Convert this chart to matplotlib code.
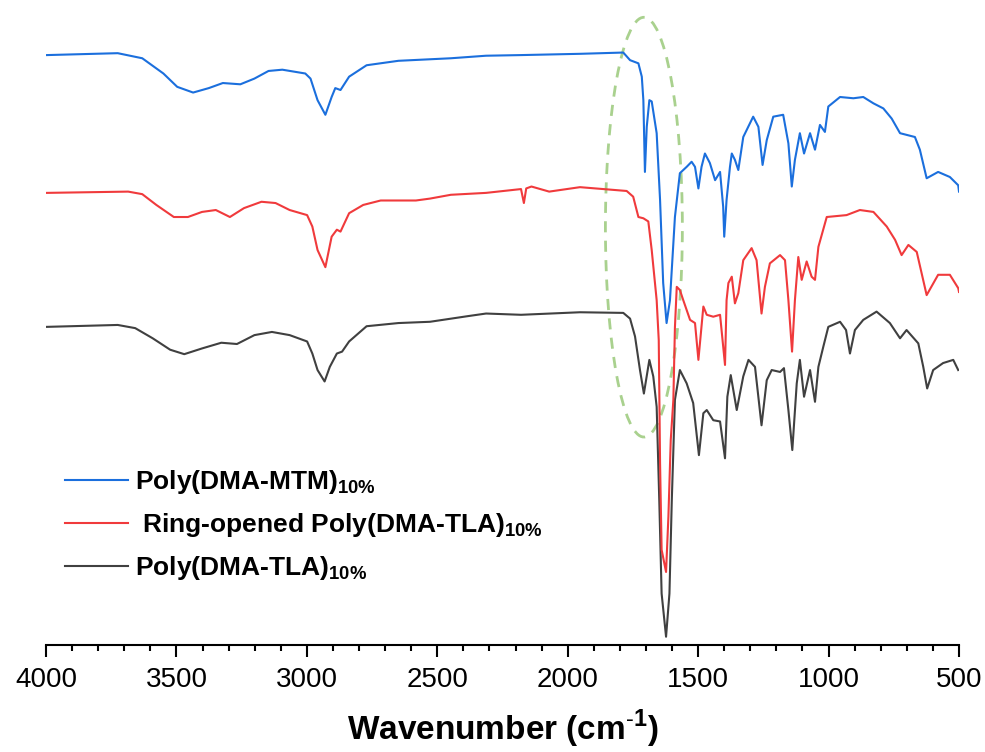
import matplotlib

matplotlib.use("Agg")
import matplotlib.pyplot as plt
from matplotlib.patches import Ellipse
from matplotlib.ticker import MultipleLocator

plt.rcParams["font.family"] = ["Liberation Sans", "DejaVu Sans"]
plt.rcParams["mathtext.fontset"] = "custom"
plt.rcParams["mathtext.rm"] = "Liberation Sans"
plt.rcParams["mathtext.bf"] = "Liberation Sans:bold"

# Transmittance (a.u., already stacked)
mtm_wn = [3997, 3725, 3631, 3550, 3497, 3436, 3376, 3322, 3255, 3201, 3147, 3094,
          3006, 2986, 2959, 2929, 2905, 2891, 2871, 2838, 2771, 2649, 2448, 2313,
          2179, 1953, 1787, 1761, 1729, 1716, 1710, 1704, 1697, 1687, 1678, 1659,
          1646, 1634, 1621, 1608, 1589, 1570, 1544, 1525, 1512, 1499, 1487, 1474,
          1455, 1435, 1416, 1404, 1400, 1391, 1378, 1371, 1359, 1346, 1327, 1289,
          1269, 1253, 1237, 1212, 1174, 1154, 1141, 1129, 1110, 1094, 1071, 1052,
          1033, 1014, 1001, 956, 905, 867, 828, 790, 758, 726, 669, 650, 624, 580,
          535, 503, 500]
mtm_t = [92.9, 93.2, 92.4, 90.0, 87.9, 87.0, 87.7, 88.5, 88.3, 89.2, 90.4, 90.6,
         90.0, 89.2, 85.8, 83.5, 86.3, 87.7, 87.4, 89.5, 91.3, 92.0, 92.4, 92.8,
         92.9, 93.1, 93.3, 92.1, 91.6, 89.5, 85.8, 74.5, 81.6, 85.8, 85.6, 80.6,
         70.1, 57.0, 50.7, 54.3, 67.4, 74.3, 75.3, 76.1, 75.3, 71.9, 75.3, 77.4,
         75.9, 73.2, 74.5, 69.0, 64.3, 70.1, 75.3, 77.4, 76.4, 74.8, 80.0, 83.2,
         81.6, 75.6, 79.5, 83.2, 83.5, 79.0, 72.2, 76.4, 80.6, 77.4, 80.6, 78.0,
         81.9, 80.8, 84.8, 86.3, 86.1, 86.3, 85.3, 84.5, 82.9, 80.6, 80.0, 78.0,
         73.5, 74.5, 73.7, 72.4, 71.4]

ro_wn = [3997, 3685, 3631, 3577, 3510, 3456, 3402, 3349, 3295, 3241, 3174, 3120,
         3066, 2999, 2979, 2959, 2929, 2905, 2885, 2871, 2838, 2784, 2717, 2582,
         2528, 2448, 2313, 2179, 2168, 2159, 2139, 2071, 1953, 1774, 1749, 1729,
         1710, 1691, 1678, 1659, 1651, 1646, 1640, 1623, 1614, 1605, 1595, 1589,
         1582, 1570, 1557, 1531, 1512, 1499, 1480, 1467, 1442, 1416, 1397, 1391,
         1384, 1371, 1359, 1346, 1327, 1295, 1276, 1257, 1244, 1225, 1186, 1167,
         1154, 1140, 1129, 1116, 1103, 1084, 1065, 1052, 1039, 1007, 931, 880,
         828, 777, 745, 720, 694, 662, 643, 624, 580, 535, 503, 500]
ro_t = [71.2, 71.4, 71.0, 69.3, 67.4, 67.4, 68.2, 68.5, 67.4, 68.8, 69.8, 69.6,
        68.5, 67.7, 65.9, 62.2, 59.5, 64.3, 65.4, 65.1, 68.0, 69.3, 70.0, 70.0,
        70.3, 70.9, 71.2, 71.8, 69.6, 71.9, 72.2, 71.4, 72.1, 71.5, 70.6, 67.4,
        67.2, 66.7, 62.2, 54.3, 48.0, 28.7, 15.0, 11.5, 20.2, 32.3, 38.6, 50.0,
        56.4, 55.9, 54.3, 51.2, 50.7, 44.9, 53.3, 52.0, 51.7, 52.0, 44.1, 54.3,
        57.0, 58.0, 53.8, 55.4, 60.6, 62.5, 60.6, 52.2, 56.4, 60.1, 61.4, 60.6,
        54.3, 46.2, 54.3, 61.1, 57.5, 60.4, 58.0, 57.5, 62.7, 67.4, 67.7, 68.5,
        68.2, 65.9, 63.8, 61.4, 63.0, 61.9, 58.5, 55.1, 58.3, 58.3, 56.2, 55.6]

tla_wn = [3997, 3725, 3658, 3591, 3524, 3470, 3402, 3328, 3268, 3201, 3134, 3066,
          2999, 2979, 2959, 2932, 2912, 2885, 2865, 2838, 2771, 2649, 2528, 2381,
          2313, 2179, 1953, 1787, 1761, 1742, 1723, 1708, 1687, 1672, 1659, 1649,
          1640, 1623, 1610, 1601, 1589, 1570, 1544, 1519, 1497, 1480, 1467, 1442,
          1416, 1397, 1388, 1375, 1352, 1327, 1307, 1282, 1257, 1237, 1218, 1186,
          1171, 1154, 1139, 1122, 1110, 1094, 1071, 1052, 1039, 1020, 1001, 956,
          933, 918, 899, 867, 816, 765, 726, 701, 656, 637, 622, 599, 561, 522, 503]
tla_t = [50.1, 50.4, 49.9, 48.3, 46.5, 45.8, 46.7, 47.6, 47.4, 48.8, 49.3, 48.8,
         47.8, 45.9, 43.3, 41.5, 43.8, 45.9, 46.2, 47.8, 50.2, 50.7, 50.9, 51.8,
         52.2, 52.0, 52.4, 52.3, 51.4, 48.6, 43.3, 39.6, 44.9, 42.3, 37.5, 22.8,
         8.1, 1.3, 8.1, 22.8, 38.6, 43.3, 41.2, 38.1, 29.9, 36.5, 37.0, 35.4,
         35.2, 29.4, 39.1, 42.5, 37.0, 42.3, 44.9, 43.8, 34.6, 41.7, 43.3, 43.0,
         43.6, 37.0, 30.7, 41.2, 44.9, 39.1, 43.3, 38.3, 43.8, 47.0, 50.1, 50.9,
         49.6, 45.9, 49.6, 51.2, 52.5, 50.7, 48.3, 49.6, 47.5, 43.8, 40.4, 43.3,
         44.4, 44.9, 43.3]

labels = [
    r"Poly(DMA-MTM)$_{\mathbf{10\%}}$",
    r" Ring-opened Poly(DMA-TLA)$_{\mathbf{10\%}}$",
    r"Poly(DMA-TLA)$_{\mathbf{10\%}}$",
]

fig = plt.figure(figsize=(9.85, 7.52), dpi=100)
ax = fig.add_axes([0.0467, 0.1423, 0.9269, 0.8444])

l_tla, = ax.plot(tla_wn, tla_t, color="#404040", lw=1.5)
l_ro, = ax.plot(ro_wn, ro_t, color="#F03A3C", lw=1.5)
l_mtm, = ax.plot(mtm_wn, mtm_t, color="#1B6FDD", lw=1.5)

# highlight around the C=O region
ax.add_patch(Ellipse((1708, 65.8), 295, 66.1, fill=False, edgecolor="#A9D18E",
                     lw=2, linestyle=(0, (4, 3))))

ax.set_xlim(4000, 500)
ax.set_ylim(0, 100)
ax.xaxis.set_major_locator(MultipleLocator(500))
ax.xaxis.set_minor_locator(MultipleLocator(100))
ax.tick_params(axis="x", which="major", direction="out", length=8.5, width=1.5,
               labelsize=20, pad=7)
ax.tick_params(axis="x", which="minor", direction="out", length=4.3, width=1.5)
ax.set_yticks([])
for side in ["left", "right", "top"]:
    ax.spines[side].set_visible(False)
ax.spines["bottom"].set_linewidth(1.5)

ax.set_xlabel(r"Wavenumber (cm$^{\mathbf{\text{-}1}}$)", fontsize=24,
              fontweight="bold", labelpad=11)

ax.legend([l_mtm, l_ro, l_tla], labels, loc="upper left",
          bbox_to_anchor=(0.0208, 0.279), frameon=False, borderpad=0,
          borderaxespad=0, handlelength=2.4, handletextpad=0.25,
          labelspacing=0.58, prop={"weight": "bold", "size": 19})

fig.savefig("out.png", dpi=100)
